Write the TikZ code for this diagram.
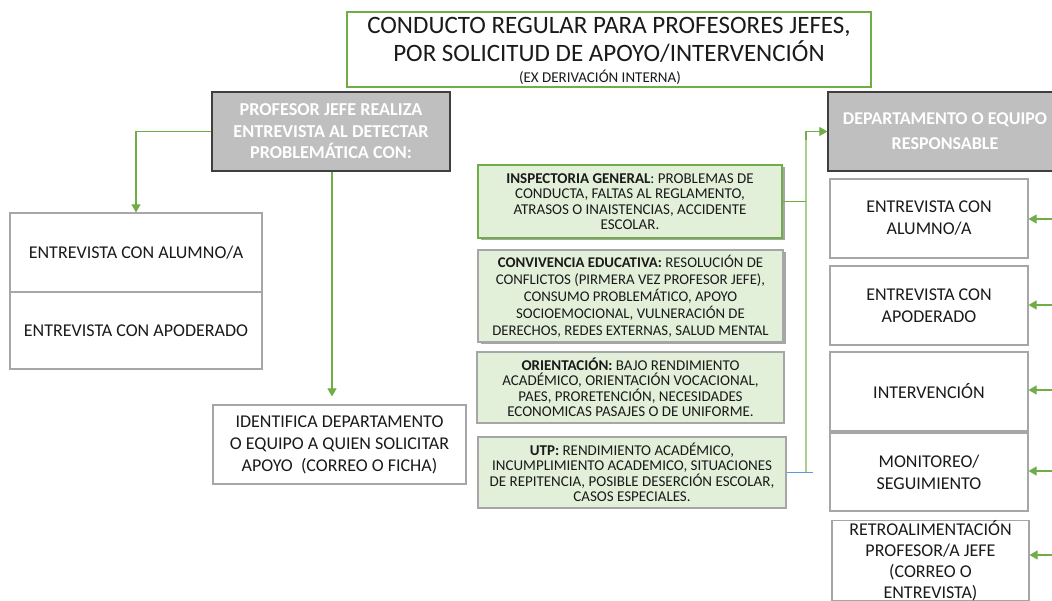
\documentclass[tikz,border=0pt]{standalone}
\usepackage{fontspec}
\setmainfont{Carlito}
\usetikzlibrary{arrows.meta,shadows}
\definecolor{gline}{HTML}{70AD47}
\definecolor{gtrunk}{HTML}{A9D18E}
\definecolor{gfill}{HTML}{E2EFD9}
\definecolor{hdrfill}{HTML}{BFBFBF}
\definecolor{hdrdraw}{HTML}{3F3F3F}
\definecolor{wdraw}{HTML}{A6A6A6}
\definecolor{bline}{HTML}{5B9BD5}
\definecolor{txt}{HTML}{1A1A1A}
\tikzset{
  hdr/.style={draw=hdrdraw,fill=hdrfill,line width=1.3pt,text=white,align=center,
    font=\bfseries\fontsize{18.2}{21.5}\selectfont,inner sep=0pt},
  wbox/.style={draw=wdraw,fill=white,line width=1.1pt,text=txt,align=center,
    font=\fontsize{18}{22}\selectfont,inner sep=0pt},
  gbox/.style={draw=wdraw,fill=gfill,line width=1.1pt,text=txt,align=center,
    font=\fontsize{15}{15.5}\selectfont,inner sep=0pt},
  gshadow/.style={drop shadow={shadow xshift=2.5pt,shadow yshift=-2.5pt,fill=black,opacity=0.35}},
  conn/.style={draw=gline,line width=1.1pt},
  tip/.style={-{Triangle[width=9pt,length=8pt]}},
}
\begin{document}
\begin{tikzpicture}[x=1pt,y=-1pt]
\useasboundingbox (0,0) rectangle (1052,601);
\clip (0,0) rectangle (1052,601);
\fill[white] (0,0) rectangle (1052,601);
% title
\node[draw=gline,line width=1.1pt,minimum width=524pt,minimum height=75pt,inner sep=0pt] (title) at (609,49.5) {};
\node[text=txt,align=center,font=\fontsize{25}{28}\selectfont,inner sep=0pt] (titletext) at (609,39.5)
  {CONDUCTO REGULAR PARA PROFESORES JEFES,\\POR SOLICITUD DE APOYO/INTERVENCIÓN};
\node[text=txt,font=\fontsize{15}{16}\selectfont,inner sep=0pt] (subtitle) at (600,77) {(EX DERIVACIÓN INTERNA)};
% left side
\node[hdr,minimum width=238pt,minimum height=79pt] (prof) at (331,131.5)
  {PROFESOR JEFE REALIZA\\ENTREVISTA AL DETECTAR\\PROBLEMÁTICA CON:};
\node[wbox,minimum width=252pt,minimum height=79pt] (alumno) at (136,252.5) {ENTREVISTA CON ALUMNO/A};
\node[wbox,minimum width=252pt,minimum height=77pt] (apoderado) at (136,330.5) {ENTREVISTA CON APODERADO};
\node[wbox,minimum width=253pt,minimum height=79pt] (ident) at (339.5,444.5)
  {IDENTIFICA DEPARTAMENTO\\O EQUIPO A QUIEN SOLICITAR\\APOYO\ \ (CORREO O FICHA)};
\draw[conn,tip] (prof.west) -| (alumno.north);
\draw[conn,tip,shorten >=8pt] (prof.south -| 332,0) -- (ident.north -| 332,0);
% green boxes
\node[gbox,draw=gline,gshadow,minimum width=304pt,minimum height=73pt] (insp) at (630,201.5)
  {\textbf{INSPECTORIA GENERAL}: PROBLEMAS DE\\CONDUCTA, FALTAS AL REGLAMENTO,\\ATRASOS O INAISTENCIAS, ACCIDENTE\\ESCOLAR.};
\node[gbox,gshadow,minimum width=305pt,minimum height=92pt,font=\fontsize{14.8}{17}\selectfont] (conv) at (630.5,296)
  {\textbf{CONVIVENCIA EDUCATIVA:} RESOLUCIÓN DE\\CONFLICTOS (PIRMERA VEZ PROFESOR JEFE),\\CONSUMO PROBLEMÁTICO, APOYO\\SOCIOEMOCIONAL, VULNERACIÓN DE\\DERECHOS, REDES EXTERNAS, SALUD MENTAL};
\node[gbox,minimum width=307pt,minimum height=71pt] (orient) at (630.5,387.5)
  {\textbf{ORIENTACIÓN:} BAJO RENDIMIENTO\\ACADÉMICO, ORIENTACIÓN VOCACIONAL,\\PAES, PRORETENCIÓN, NECESIDADES\\ECONOMICAS PASAJES O DE UNIFORME.};
\node[gbox,minimum width=308pt,minimum height=71pt] (utp) at (632,472.5)
  {\textbf{UTP:} RENDIMIENTO ACADÉMICO,\\INCUMPLIMIENTO ACADEMICO, SITUACIONES\\DE REPITENCIA, POSIBLE DESERCIÓN ESCOLAR,\\CASOS ESPECIALES.};
% right side
\node[hdr,minimum width=234pt,minimum height=79pt,font=\bfseries\fontsize{18}{25}\selectfont] (dept) at (945,131.5)
  {DEPARTAMENTO O EQUIPO\\RESPONSABLE};
\node[wbox,minimum width=198pt,minimum height=79pt] (ralumno) at (929,218.5) {ENTREVISTA CON\\ALUMNO/A};
\node[wbox,minimum width=198pt,minimum height=79pt] (rapod) at (929,305.5) {ENTREVISTA CON\\APODERADO};
\node[wbox,minimum width=198pt,minimum height=79pt] (rinterv) at (929,391.5) {INTERVENCIÓN};
\node[wbox,minimum width=198pt,minimum height=78pt] (rmonit) at (929,472) {MONITOREO/\\SEGUIMIENTO};
\node[wbox,minimum width=197pt,minimum height=79pt,font=\fontsize{18}{21}\selectfont] (rretro) at (930.5,560.5)
  {RETROALIMENTACIÓN\\PROFESOR/A JEFE\\(CORREO O\\ENTREVISTA)};
% trunk
\coordinate (trunkbot) at (806,472);
\coordinate (utpend) at (813,472.5);
\draw[draw=gtrunk,line width=1.6pt] (trunkbot) -- (806,140);
\draw[conn,tip] (806,140) |- (dept.west);
\draw[conn] (insp.east) -- (insp.east -| trunkbot);
\draw[draw=bline,line width=1.1pt] (utp.east) -- (utpend);
% incoming arrows on the right
\coordinate (in1) at (1060,219);
\coordinate (in2) at (1060,305);
\coordinate (in3) at (1060,390);
\coordinate (in4) at (1060,471);
\coordinate (in5) at (1060,555);
\draw[conn,tip] (in1) -- (ralumno.east |- in1);
\draw[conn,tip] (in2) -- (rapod.east |- in2);
\draw[conn,tip] (in3) -- (rinterv.east |- in3);
\draw[conn,tip] (in4) -- (rmonit.east |- in4);
\draw[conn,tip] (in5) -- (rretro.east |- in5);
\end{tikzpicture}
\end{document}
